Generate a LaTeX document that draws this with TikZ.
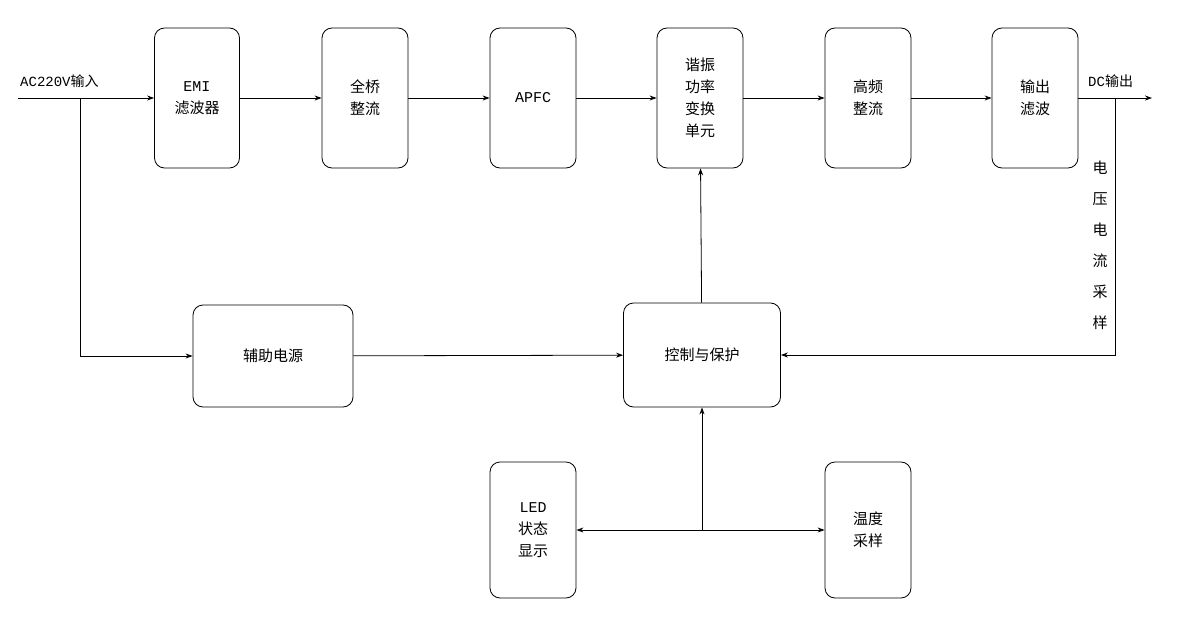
\documentclass[tikz,border=0pt]{standalone}
\usepackage{fontspec}
\setmainfont{Liberation Mono}
\newfontfamily\cjk{Noto Sans CJK SC}
\usetikzlibrary{arrows.meta}
\begin{document}
\begin{tikzpicture}[x=1pt,y=-1pt,
 blk/.style={draw,thick,rounded corners=10pt,align=center,font=\fontsize{15}{22}\selectfont},
 arr/.style={-{Stealth[length=7pt,width=5pt]},thick},
 ln/.style={thick}]
\useasboundingbox (0,0) rectangle (1179,618);
\fill[white] (0,0) rectangle (1179,618);
\node[blk,minimum width=85,minimum height=140] (emi) at (197,98) {EMI\\\cjk 滤波器};
\node[blk,minimum width=86,minimum height=140] (qq) at (365,98) {\cjk 全桥\\\cjk 整流};
\node[blk,minimum width=86,minimum height=140] (apfc) at (533,98) {APFC};
\node[blk,minimum width=86,minimum height=140] (xz) at (700,98) {\cjk 谐振\\\cjk 功率\\\cjk 变换\\\cjk 单元};
\node[blk,minimum width=86,minimum height=140] (gp) at (868,98) {\cjk 高频\\\cjk 整流};
\node[blk,minimum width=86,minimum height=140] (sc) at (1035,98) {\cjk 输出\\\cjk 滤波};
\node[blk,minimum width=160,minimum height=102] (fz) at (273,356) {\cjk 辅助电源};
\node[blk,minimum width=157,minimum height=104] (kz) at (702,355) {\cjk 控制与保护};
\node[blk,minimum width=86,minimum height=136] (led) at (533,530) {LED\\\cjk 状态\\\cjk 显示};
\node[blk,minimum width=86,minimum height=136] (wd) at (868,530) {\cjk 温度\\\cjk 采样};
\coordinate (in) at (18,98);
\coordinate (out) at (1152,98);
\coordinate (j1) at (80,98);
\coordinate (j2) at (1115,98);
\coordinate (j3) at (702,530);
\draw[arr] (in) -- (emi);
\node[anchor=south west,inner sep=2pt,font=\fontsize{14}{16}\selectfont] at (18,90) {AC220V\cjk 输入};
\node[anchor=south west,inner sep=2pt,font=\fontsize{14}{16}\selectfont] at (1086,90) {DC\cjk 输出};
\draw[arr] (emi) -- (qq);
\draw[arr] (qq) -- (apfc);
\draw[arr] (apfc) -- (xz);
\draw[arr] (xz) -- (gp);
\draw[arr] (gp) -- (sc);
\draw[arr] (sc) -- (out);
\draw[arr] (j1) |- (fz);
\draw[arr] (fz) -- (kz);
\draw[arr] (j2) |- (kz);
\draw[arr] (kz) -- (xz);
\draw[arr] (j3) -- (kz);
\draw[arr] (j3) -- (led);
\draw[arr] (j3) -- (wd);
\node[align=center,font=\fontsize{15}{31}\selectfont] at (1100,245) {\cjk 电\\\cjk 压\\\cjk 电\\\cjk 流\\\cjk 采\\\cjk 样};
\end{tikzpicture}
\end{document}
